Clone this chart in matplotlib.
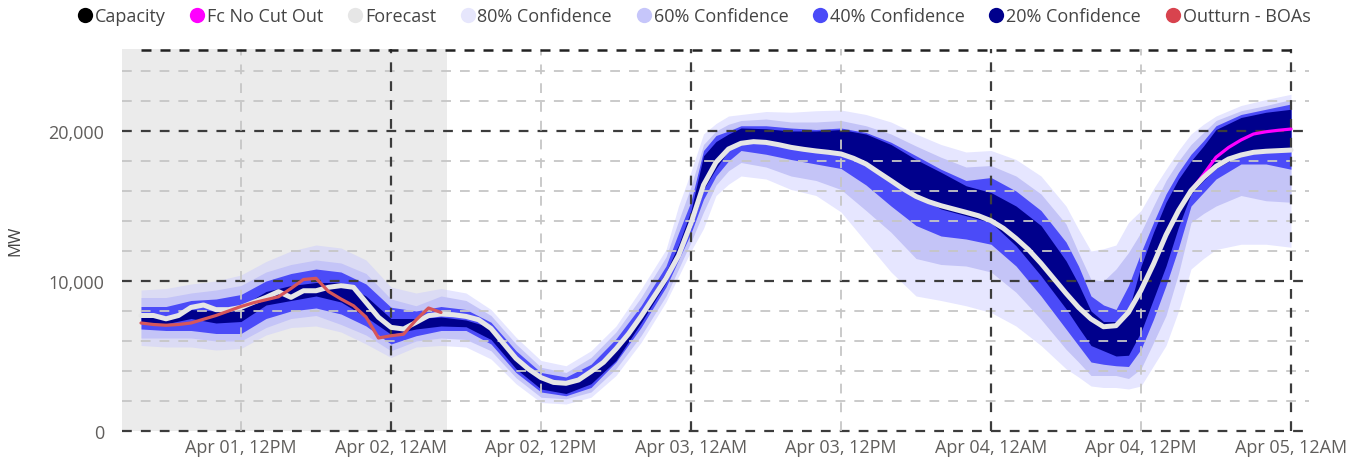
import matplotlib
matplotlib.use('Agg')
import matplotlib.pyplot as plt
import matplotlib.dates as mdates
import pandas as pd
from matplotlib.lines import Line2D

plt.rcParams['font.family'] = ['Open Sans', 'DejaVu Sans']

# ---------------- data ----------------
start = pd.Timestamp('2024-04-01 00:00')

# forecast line (hourly, hours after Apr 01 00:00)
fc_hours = list(range(4, 97))
forecast = [7700, 7700, 7480, 7700, 8240, 8400, 8090, 8090, 8240, 8580, 8910, 9290, 8910,
            9350, 9350, 9580, 9690, 9580, 8580, 7580, 6910, 6800, 7240, 7690, 7800, 7750,
            7640, 7420, 6840, 5840, 4840, 4130, 3560, 3240, 3180, 3400, 3960, 4580, 5470,
            6470, 7640, 8910, 10180, 11690, 13850, 16400, 17910, 18800, 19180, 19290, 19240,
            19090, 18910, 18780, 18670, 18580, 18470, 18180, 17800, 17240, 16690, 16130,
            15640, 15290, 15020, 14800, 14580, 14350, 14020, 13510, 12840, 12090, 11180,
            10180, 9180, 8240, 7470, 6950, 7020, 7910, 9380, 11130, 13070, 14690, 16020,
            16910, 17640, 18130, 18400, 18580, 18650, 18690, 18730]

# confidence bands
band_hours = [4, 6, 8, 10, 12, 14, 16, 18, 20, 22, 24, 26, 28, 30, 32, 34, 36, 38, 40, 42,
              44, 46, 47, 48, 49, 50, 51, 52, 54, 56, 58, 60, 62, 64, 66, 68, 70, 72, 74,
              76, 78, 79, 80, 81, 82, 83, 84, 85, 86, 87, 88, 89, 90, 92, 94, 96]

lo80 = [5700, 5600, 5600, 5400, 5500, 6400, 6900, 7000, 6600, 5800, 4900, 5600, 5700, 5600,
        4800, 3150, 1900, 1800, 2250, 3700, 5900, 8600, 10300, 12000, 13500, 15700, 16450,
        17000, 16800, 16100, 15700, 14600, 12600, 10600, 9000, 8700, 8350, 7900, 7000, 5700,
        4150, 3600, 3000, 2900, 2900, 2800, 3000, 4350, 5700, 8000, 10800, 11500, 12100,
        12450, 12450, 12250]
hi80 = [9400, 9500, 9800, 10000, 10400, 11300, 12000, 12400, 12200, 11400, 9600, 9200, 9500,
        9200, 8100, 6250, 4700, 4350, 5350, 7000, 9450, 12100, 15000, 17300, 19800, 20500,
        21000, 21100, 21300, 21250, 21350, 21400, 21100, 20600, 19800, 19100, 18600, 18700,
        18100, 17000, 15000, 13450, 12000, 12150, 12400, 13900, 14700, 16150, 17450, 18700,
        19800, 20450, 21000, 21700, 22100, 22450]
lo60 = [6200, 6200, 6200, 6000, 6000, 6900, 7500, 7700, 7100, 6400, 5350, 6000, 6200, 6100,
        5350, 3550, 2250, 2150, 2600, 4150, 6350, 9000, 10800, 12600, 14600, 16400, 17350,
        17900, 17600, 17000, 16700, 16100, 14700, 13250, 11500, 11100, 11000, 10600, 9250,
        7450, 5450, 4600, 3700, 3700, 3700, 3500, 4150, 5900, 7700, 10500, 13900, 14500,
        15000, 15700, 15350, 15250]
hi60 = [8900, 8900, 9200, 9400, 9700, 10600, 11100, 11400, 11200, 10500, 8800, 8350, 9000,
        8700, 7700, 5800, 4250, 3900, 4900, 6600, 8900, 11600, 14000, 16300, 19100, 20000,
        20450, 20700, 20800, 20600, 20600, 20700, 20350, 19800, 19000, 18250, 17600, 17700,
        17000, 15800, 13800, 11900, 10100, 10000, 10800, 11900, 13250, 15000, 16700, 18000,
        19100, 19900, 20700, 21350, 21700, 22100]
lo40 = [6800, 6700, 6700, 6500, 6500, 7500, 8000, 8200, 7800, 7000, 5800, 6350, 6700, 6700,
        5800, 3900, 2600, 2350, 2900, 4600, 6900, 9600, 11400, 13200, 15450, 17000, 18000,
        18700, 18450, 18100, 17800, 17500, 16400, 15000, 13700, 13000, 12800, 12450, 11000,
        9000, 6800, 5700, 4600, 4450, 4350, 4300, 5450, 7450, 9700, 12200, 15000, 15900,
        16800, 17800, 17800, 17450]
hi40 = [8300, 8300, 8700, 8800, 9100, 10000, 10500, 10800, 10600, 9800, 8250, 8000, 8300,
        8100, 7250, 5350, 3900, 3600, 4450, 6150, 8350, 11000, 13200, 15300, 18700, 19700,
        20000, 20350, 20350, 20200, 20100, 20200, 19900, 19250, 18350, 17450, 16700, 16900,
        16000, 14700, 12600, 11000, 9000, 8400, 8100, 9700, 11900, 13900, 15800, 17250,
        18450, 19350, 20350, 21100, 21450, 21800]
lo20 = [7250, 7150, 7500, 7200, 7300, 8400, 8700, 9000, 8600, 7600, 6450, 6800, 7000, 6950,
        6100, 4150, 2800, 2500, 3150, 4700, 7200, 9900, 11700, 13500, 16100, 17500, 18700,
        19300, 19300, 19000, 18800, 18550, 17800, 16700, 15700, 14800, 14350, 13900, 12350,
        10350, 8150, 6900, 5700, 5350, 5000, 5050, 6600, 8800, 11000, 13600, 15800, 16700,
        17500, 18450, 18650, 18900]
hi20 = [7650, 7600, 8100, 8000, 8300, 9300, 9700, 9900, 9900, 9000, 7500, 7500, 7600, 7400,
        6900, 4900, 3600, 3250, 3900, 5400, 7900, 10600, 12400, 14700, 18350, 19300, 19800,
        20200, 20150, 20000, 20000, 20100, 19800, 19100, 18100, 17250, 16350, 15900, 15000,
        13700, 11350, 9800, 8000, 7300, 7300, 8000, 11000, 13250, 15250, 16800, 18000, 19000,
        20100, 20900, 21250, 21450]

# outturn (hourly)
out_hours = [4, 5, 6, 7, 8, 9, 10, 11, 12, 13, 14, 15, 16, 17, 18, 19, 20, 21, 22, 23, 24,
             25, 26, 27, 28]
outturn = [7200, 7100, 7050, 7100, 7200, 7450, 7700, 8000, 8300, 8550, 8750, 8950, 9500,
           10100, 10180, 9300, 8800, 8350, 7600, 6200, 6350, 6450, 7400, 8200, 7900]

# forecast with no cut out (where it departs from the forecast)
nco_hours = [88, 89, 90, 91, 92, 93, 94, 95, 96]
fc_no_cut_out = [16020, 17100, 18250, 18900, 19400, 19800, 19950, 20050, 20130]

cap_hours = [4, 96]
capacity = [25400, 25400]

now_hour = 28.5

# ---------------- plot ----------------
def to_t(hs):
    return [start + pd.Timedelta(hours=h) for h in hs]

tb = to_t(band_hours)

fig = plt.figure(figsize=(13.68, 4.64), dpi=100)
ax = fig.add_axes([122 / 1368, 32 / 464, (1309 - 122) / 1368, (432 - 49.5) / 464])

x0 = start + pd.Timedelta(hours=2.48)
x1 = start + pd.Timedelta(hours=97.44)
ax.set_xlim(x0, x1)
ax.set_ylim(0, 25500)

ax.axvspan(x0, start + pd.Timedelta(hours=now_hour), color='#ebebeb', zorder=0, lw=0)

c80, c60, c40, c20 = '#c8c8ff', '#c4c4f7', '#4b4bf8', '#00008c'
ax.fill_between(tb, lo80, hi80, color=c80, alpha=0.45, lw=0, zorder=1)
ax.fill_between(tb, lo60, hi60, color=c60, lw=0, zorder=2)
ax.fill_between(tb, lo40, hi40, color=c40, lw=0, zorder=3)
ax.fill_between(tb, lo20, hi20, color=c20, lw=0, zorder=4)

# grid
light = dict(color='#c6c6c6', lw=1.3, dashes=(5.4, 5.0), zorder=5)
dark = dict(color='#3c3c3c', lw=1.6, dashes=(4.4, 4.1), zorder=5)
for v in range(2000, 25000, 2000):
    if v % 10000:
        ax.axhline(v, **light)
for v in (0, 10000, 20000):
    ax.axhline(v, clip_on=False, **dark)
for d in range(1, 5):
    ax.axvline(start + pd.Timedelta(days=d - 1, hours=12), **light)
    ax.axvline(start + pd.Timedelta(days=d), **dark)

ax.plot(to_t(nco_hours), fc_no_cut_out, color='#ff00ff', lw=2.3, zorder=6,
        solid_capstyle='round')
ax.plot(to_t(fc_hours), forecast, color='#e6e6e6', lw=3.6, zorder=7,
        solid_capstyle='round', solid_joinstyle='round')
ax.plot(to_t(out_hours), outturn, color='#d6565a', lw=2.3, zorder=8,
        solid_capstyle='round', solid_joinstyle='round')
ax.plot(to_t(cap_hours), capacity, color='#222222', lw=1.8, dashes=(4.0, 3.6), zorder=9,
        clip_on=False)

for s in ax.spines.values():
    s.set_visible(False)

ax.set_yticks([0, 10000, 20000])
ax.set_yticklabels(['0', '10,000', '20,000'])
ax.set_xticks(to_t([12, 24, 36, 48, 60, 72, 84, 96]))
ax.xaxis.set_major_formatter(mdates.DateFormatter('%b %d, %I%p'))
ax.tick_params(axis='both', length=0, labelsize=13, labelcolor='#605e5c')
ax.tick_params(axis='y', pad=13)
ax.tick_params(axis='x', pad=5)

fig.text(15 / 1368, 1 - 241 / 464, 'MW', rotation=90, ha='center', va='center',
         fontsize=12, color='#444444')

legend_colors = ['#000000', '#ff00ff', '#e6e6e6', '#e6e6fc', '#c6c6fa', '#4b4bf8', '#00008c',
                 '#d8434e']
labels = ['Capacity', 'Fc No Cut Out', 'Forecast', '80% Confidence', '60% Confidence',
          '40% Confidence', '20% Confidence', 'Outturn - BOAs']
handles = [Line2D([], [], ls='none', marker='o', ms=11, mfc=c, mec='none')
           for c in legend_colors]
fig.legend(handles, labels, loc='center', bbox_to_anchor=(693 / 1368, 1 - 17 / 464), ncol=8,
           frameon=False, fontsize=13, handletextpad=0.05, columnspacing=1.25,
           handlelength=1.0, labelcolor='#444444')

fig.savefig('out.png', dpi=100)
